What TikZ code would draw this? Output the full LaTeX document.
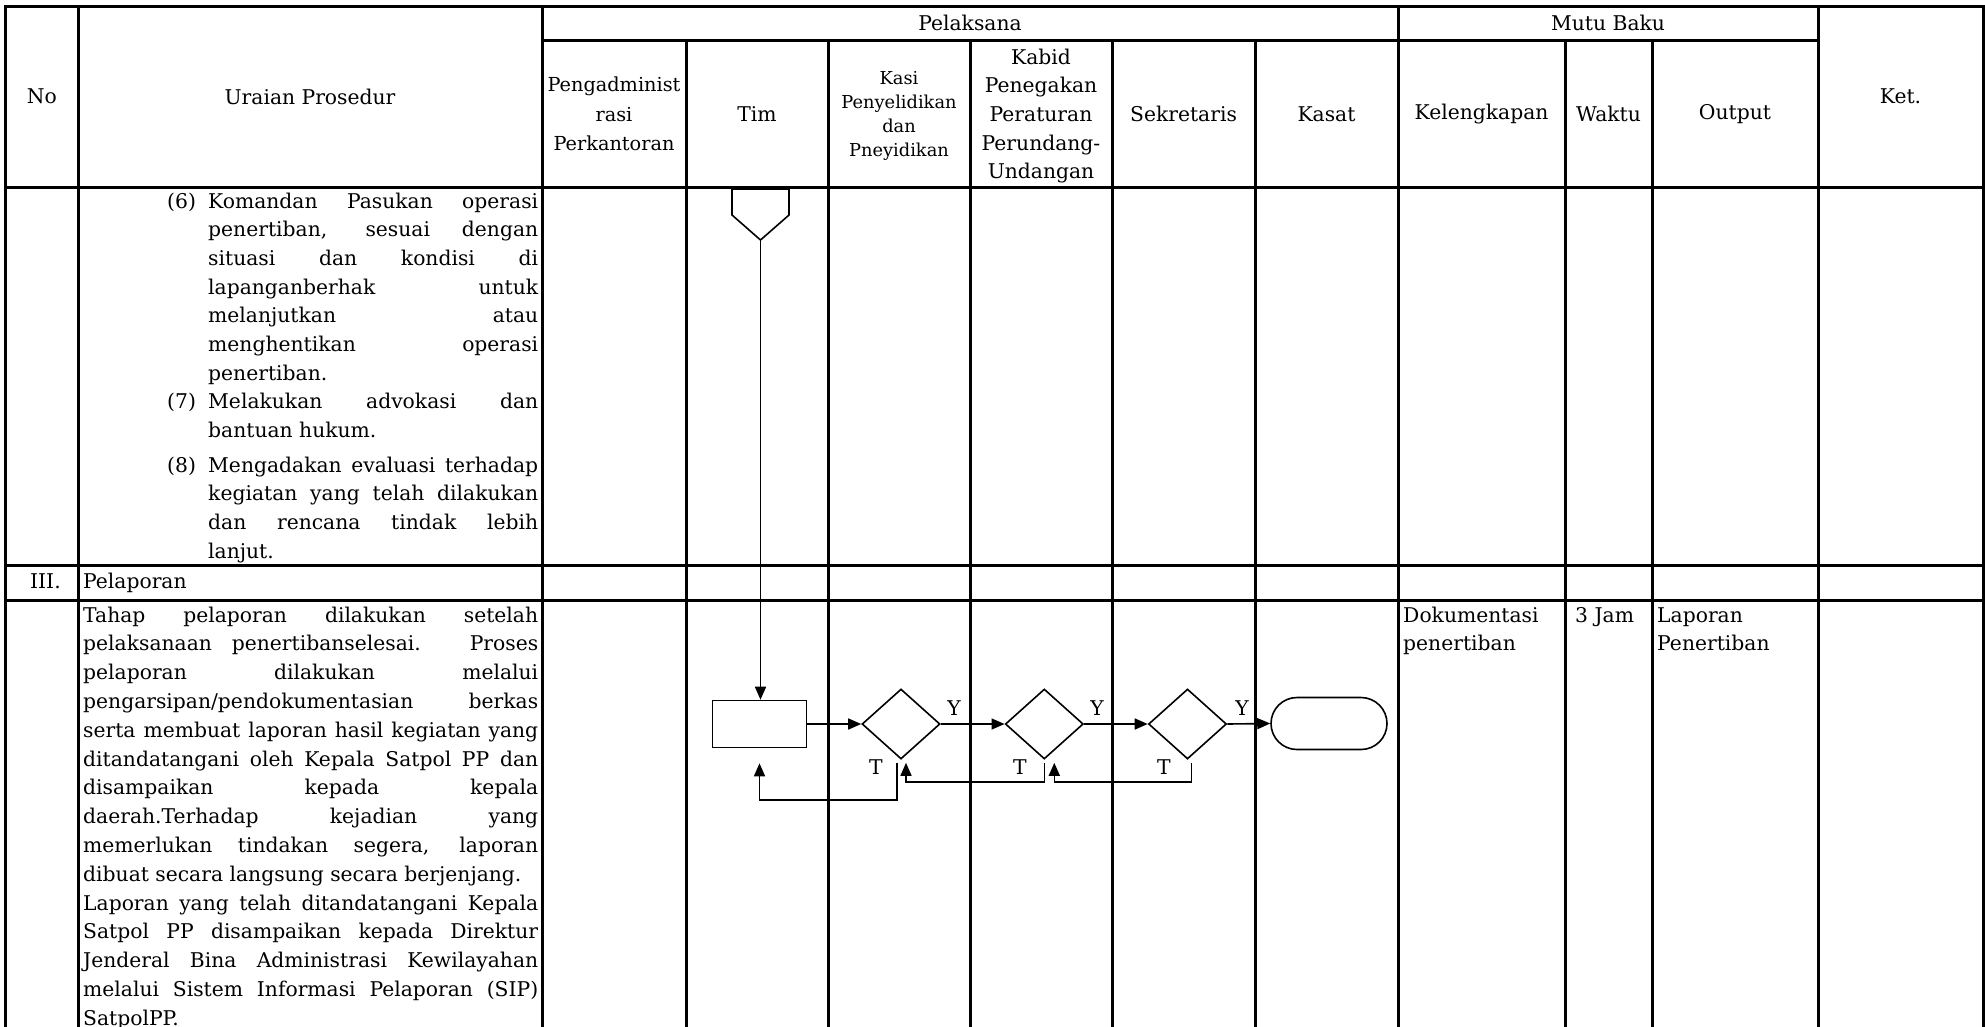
\documentclass[tikz,border=0pt]{standalone}
\usepackage{fontspec}
\setmainfont{DejaVu Serif}
\usetikzlibrary{arrows.meta,shapes.geometric,calc}
\newcommand{\jl}[2]{\makebox[#1pt][s]{#2}}
\begin{document}
\begin{tikzpicture}[x=1pt,y=-1pt,
  grid/.style={line width=3pt,line cap=rect},
  flow/.style={line width=1.6pt},
  arr/.style={flow,-{Triangle[length=13pt,width=11pt]}},
  txt/.style={inner sep=0pt,anchor=base west,font=\fontsize{20.3}{28.7}\selectfont},
  hdr/.style={inner sep=0pt,align=center,font=\fontsize{20.3}{28.7}\selectfont},
  hdrm/.style={inner sep=0pt,align=center,font=\fontsize{19.3}{29.5}\selectfont},
  hdrs/.style={inner sep=0pt,align=center,font=\fontsize{17.8}{24.2}\selectfont},
  lbl/.style={inner sep=0pt,font=\fontsize{20.3}{24}\selectfont},
  dia/.style={draw,flow,diamond,minimum width=78pt,minimum height=70pt,inner sep=0pt},
]
\useasboundingbox (0,0) rectangle (1985,1026);
\clip (0,0) rectangle (1985,1026);
\fill[white] (0,0) rectangle (1985,1026);

% grid
\draw[grid] (5,1030) -- (5,6) -- (1983,6) -- (1983,1030);
\draw[grid] (5,187) -- (1983,187);
\draw[grid] (5,565) -- (1983,565);
\draw[grid] (5,600) -- (1983,600);
\draw[grid] (542,40.5) -- (1818,40.5);
\foreach \x in {78.5,542,1398,1818} \draw[grid] (\x,6) -- (\x,1030);
\foreach \x in {686,828,970,1112,1255,1565,1652} \draw[grid] (\x,40.5) -- (\x,1030);

% headers
\node[hdr] (hNo) at (41.75,96.5) {No};
\node[hdr] (hUr) at (310,96.5) {Uraian Prosedur};
\node[hdr] (hPel) at (970,23) {Pelaksana};
\node[hdr] (hMutu) at (1608,23) {Mutu Baku};
\node[hdr] (hKet) at (1900.5,96.5) {Ket.};
\node[hdrm] (hPeng) at (614,114) {Pengadminist\\rasi\\Perkantoran};
\node[hdr] (hTim) at (757,114) {Tim};
\node[hdrs] (hKasi) at (899,116) {Kasi\\Penyelidikan\\dan\\Pneyidikan};
\node[hdr] (hKabid) at (1041,116) {Kabid\\Penegakan\\Peraturan\\Perundang-\\Undangan};
\node[hdr] (hSek) at (1183.5,114) {Sekretaris};
\node[hdr] (hKasat) at (1326.5,114) {Kasat};
\node[hdr] (hKel) at (1481.5,114) {Kelengkapan};
\node[hdr] (hWak) at (1608.5,114) {Waktu};
\node[hdr] (hOut) at (1735,114) {Output};

% items (6)-(8)
\node[txt] (n6) at (167,208) {(6)};
\node[txt] (u1) at (208,208) {\jl{330}{Komandan Pasukan operasi}};
\node[txt] (u2) at (208,236.7) {\jl{330}{penertiban, sesuai dengan}};
\node[txt] (u3) at (208,265.4) {\jl{330}{situasi dan kondisi di}};
\node[txt] (u4) at (208,294.1) {\jl{330}{lapanganberhak untuk}};
\node[txt] (u5) at (208,322.8) {\jl{330}{melanjutkan atau}};
\node[txt] (u6) at (208,351.5) {\jl{330}{menghentikan operasi}};
\node[txt] (u7) at (208,380.2) {penertiban.};
\node[txt] (n7) at (167,408.9) {(7)};
\node[txt] (u8) at (208,408.9) {\jl{330}{Melakukan advokasi dan}};
\node[txt] (u9) at (208,437.6) {bantuan hukum.};
\node[txt] (n8) at (167,472) {(8)};
\node[txt] (u10) at (208,472) {\jl{330}{Mengadakan evaluasi terhadap}};
\node[txt] (u11) at (208,500.7) {\jl{330}{kegiatan yang telah dilakukan}};
\node[txt] (u12) at (208,529.4) {\jl{330}{dan rencana tindak lebih}};
\node[txt] (u13) at (208,558.1) {lanjut.};

% section III
\node[txt] (sIII) at (30,588) {III.};
\node[txt] (sPel) at (83,588) {Pelaporan};

% paragraph
\node[txt] (p1) at (83,622) {\jl{455}{Tahap pelaporan dilakukan setelah}};
\node[txt] (p2) at (83,650.8) {\jl{455}{pelaksanaan penertibanselesai. Proses}};
\node[txt] (p3) at (83,679.6) {\jl{455}{pelaporan dilakukan melalui}};
\node[txt] (p4) at (83,708.4) {\jl{455}{pengarsipan/pendokumentasian berkas}};
\node[txt] (p5) at (83,737.2) {\jl{455}{serta membuat laporan hasil kegiatan yang}};
\node[txt] (p6) at (83,766) {\jl{455}{ditandatangani oleh Kepala Satpol PP dan}};
\node[txt] (p7) at (83,794.8) {\jl{455}{disampaikan kepada kepala}};
\node[txt] (p8) at (83,823.6) {\jl{455}{daerah.Terhadap kejadian yang}};
\node[txt] (p9) at (83,852.4) {\jl{455}{memerlukan tindakan segera, laporan}};
\node[txt] (p10) at (83,881.2) {dibuat secara langsung secara berjenjang.};
\node[txt] (p11) at (83,910) {\jl{455}{Laporan yang telah ditandatangani Kepala}};
\node[txt] (p12) at (83,938.8) {\jl{455}{Satpol PP disampaikan kepada Direktur}};
\node[txt] (p13) at (83,967.6) {\jl{455}{Jenderal Bina Administrasi Kewilayahan}};
\node[txt] (p14) at (83,996.4) {\jl{455}{melalui Sistem Informasi Pelaporan (SIP)}};
\node[txt] (p15) at (83,1025.2) {SatpolPP.};

% mutu baku
\node[txt] (k1) at (1403,622) {Dokumentasi};
\node[txt] (k2) at (1403,650.8) {penertiban};
\node[txt] (w1) at (1575,622) {3 Jam};
\node[txt] (o1) at (1657,622) {Laporan};
\node[txt] (o2) at (1657,650.8) {Penertiban};

% flow
\draw[flow] (732,189) -- (789,189) -- (789,215) -- (760.5,240) -- (732,215) -- cycle;
\coordinate (offtip) at (760.5,240);
\node[draw,flow,minimum width=94pt,minimum height=47pt,inner sep=0pt] (proc) at (759.5,724) {};
\node[dia] (d1) at (901,724) {};
\node[dia] (d2) at (1044.3,724) {};
\node[dia] (d3) at (1187.5,724) {};
\node[draw,flow,rounded corners=26pt,minimum width=116pt,minimum height=52pt,inner sep=0pt] (term) at (1329,723.5) {};

\draw[arr] (offtip) -- (offtip |- proc.north);
\draw[arr] (proc.east) -- (d1.west);
\draw[arr] (d1.east) -- (d2.west);
\draw[arr] (d2.east) -- (d3.west);
\draw[arr] (d3.east) -- (term.west);

\draw[arr] ([shift={(-4,3)}]d1.south) -- ++(0,37) -| ([shift={(0,15)}]proc.south);
\draw[arr] ([shift={(0,3)}]d2.south) -- ++(0,19) -| ([shift={(5,3)}]d1.south);
\draw[arr] ([shift={(4,3)}]d3.south) -- ++(0,19) -| ([shift={(10,3)}]d2.south);

\node[lbl] (y1) at (954,708) {Y};
\node[lbl] (y2) at (1097,708) {Y};
\node[lbl] (y3) at (1242,708) {Y};
\node[lbl] (t1) at (876,767) {T};
\node[lbl] (t2) at (1020,767) {T};
\node[lbl] (t3) at (1164,767) {T};
\end{tikzpicture}
\end{document}
